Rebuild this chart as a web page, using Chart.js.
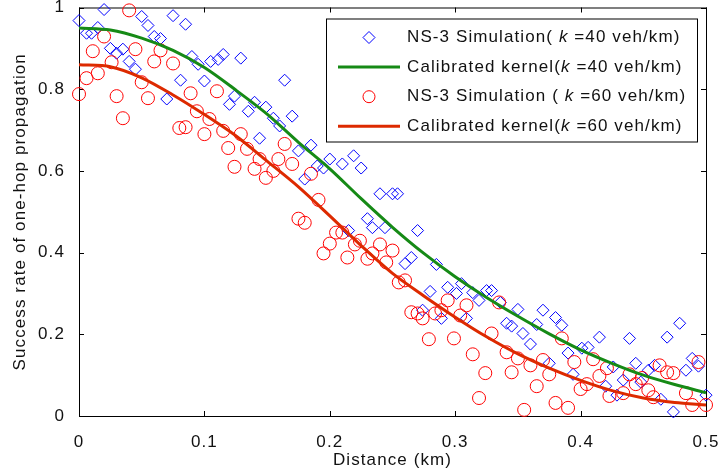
<!DOCTYPE html>
<html>
<head>
<meta charset="utf-8">
<script src="https://cdn.jsdelivr.net/npm/chart.js@4.4.0/dist/chart.umd.min.js"></script>
<style>
  html, body { margin: 0; padding: 0; background: #fff; }
</style>
</head>
<body>
<canvas id="chart" width="719" height="475"></canvas>
<script>
// NS-3 simulation, k = 40 veh/km (distance in km, success rate)
const sim40X = [
  0.000, 0.020, 0.006, 0.010, 0.015, 0.025, 0.030, 0.035, 0.040, 0.045,
  0.050, 0.055, 0.060, 0.065, 0.075, 0.085, 0.070, 0.081, 0.090, 0.095,
  0.100, 0.105, 0.111, 0.115, 0.129, 0.120, 0.124, 0.135, 0.140, 0.149,
  0.155, 0.160, 0.164, 0.170, 0.144, 0.175, 0.185, 0.180, 0.190, 0.195,
  0.200, 0.210, 0.219, 0.225, 0.215, 0.240, 0.250, 0.254, 0.230, 0.234,
  0.244, 0.270, 0.260, 0.265, 0.285, 0.280, 0.294, 0.301, 0.305, 0.314,
  0.319, 0.325, 0.329, 0.274, 0.289, 0.309, 0.336, 0.341, 0.345, 0.350,
  0.354, 0.360, 0.370, 0.365, 0.380, 0.385, 0.375, 0.390, 0.401, 0.406,
  0.415, 0.394, 0.420, 0.426, 0.434, 0.429, 0.439, 0.444, 0.448, 0.459,
  0.454, 0.464, 0.469, 0.479, 0.474, 0.484, 0.489, 0.494, 0.500
];
const sim40Y = [
  0.968, 0.995, 0.937, 0.937, 0.951, 0.900, 0.888, 0.898, 0.868, 0.849,
  0.978, 0.956, 0.929, 0.924, 0.980, 0.959, 0.776, 0.822, 0.880, 0.861,
  0.820, 0.868, 0.873, 0.885, 0.876, 0.763, 0.783, 0.746, 0.768, 0.756,
  0.729, 0.710, 0.822, 0.734, 0.680, 0.649, 0.663, 0.580, 0.612, 0.607,
  0.629, 0.617, 0.637, 0.607, 0.454, 0.544, 0.544, 0.544, 0.483, 0.461,
  0.461, 0.454, 0.373, 0.388, 0.371, 0.305, 0.315, 0.300, 0.324, 0.302,
  0.283, 0.307, 0.307, 0.259, 0.239, 0.239, 0.278, 0.227, 0.220, 0.261,
  0.202, 0.176, 0.259, 0.224, 0.241, 0.222, 0.129, 0.154, 0.166, 0.168,
  0.193, 0.102, 0.073, 0.120, 0.088, 0.051, 0.190, 0.129, 0.083, 0.124,
  0.112, 0.041, 0.193, 0.227, 0.010, 0.112, 0.141, 0.122, 0.051
];

// NS-3 simulation, k = 60 veh/km
const sim60X = [
  0.000, 0.006, 0.011, 0.015, 0.020, 0.026, 0.030, 0.035, 0.040, 0.045,
  0.050, 0.055, 0.060, 0.065, 0.075, 0.080, 0.085, 0.089, 0.094, 0.100,
  0.104, 0.110, 0.115, 0.119, 0.124, 0.129, 0.134, 0.140, 0.144, 0.149,
  0.155, 0.159, 0.164, 0.170, 0.185, 0.191, 0.175, 0.180, 0.195, 0.200,
  0.205, 0.210, 0.214, 0.220, 0.224, 0.230, 0.234, 0.240, 0.245, 0.250,
  0.255, 0.260, 0.265, 0.270, 0.274, 0.279, 0.284, 0.289, 0.294, 0.299,
  0.304, 0.309, 0.314, 0.319, 0.324, 0.329, 0.335, 0.341, 0.345, 0.350,
  0.355, 0.360, 0.365, 0.370, 0.375, 0.380, 0.385, 0.390, 0.395, 0.400,
  0.405, 0.410, 0.415, 0.421, 0.423, 0.434, 0.439, 0.444, 0.449, 0.454,
  0.458, 0.463, 0.469, 0.474, 0.484, 0.489, 0.494, 0.500
];
const sim60Y = [
  0.788, 0.827, 0.893, 0.839, 0.929, 0.866, 0.783, 0.729, 0.993, 0.898,
  0.817, 0.778, 0.868, 0.895, 0.863, 0.705, 0.707, 0.790, 0.746, 0.690,
  0.727, 0.795, 0.698, 0.656, 0.610, 0.690, 0.654, 0.605, 0.629, 0.583,
  0.600, 0.629, 0.666, 0.617, 0.593, 0.529, 0.483, 0.473, 0.398, 0.422,
  0.449, 0.449, 0.388, 0.420, 0.429, 0.385, 0.398, 0.420, 0.376, 0.405,
  0.327, 0.332, 0.254, 0.251, 0.239, 0.188, 0.251, 0.259, 0.283, 0.190,
  0.246, 0.271, 0.151, 0.044, 0.105, 0.202, 0.278, 0.156, 0.107, 0.141,
  0.015, 0.124, 0.073, 0.137, 0.102, 0.032, 0.190, 0.020, 0.132, 0.066,
  0.078, 0.139, 0.098, 0.117, 0.049, 0.056, 0.102, 0.078, 0.093, 0.063,
  0.046, 0.124, 0.107, 0.105, 0.056, 0.027, 0.132, 0.027
];

// calibrated kernel curves
const fitX = [0, 0.025, 0.05, 0.075, 0.1, 0.125, 0.15, 0.175, 0.2, 0.225, 0.25,
              0.275, 0.3, 0.325, 0.35, 0.375, 0.4, 0.425, 0.45, 0.475, 0.5];
const fit40 = [0.950, 0.945, 0.925, 0.895, 0.853, 0.798, 0.739, 0.670, 0.605, 0.532, 0.462,
               0.398, 0.341, 0.290, 0.244, 0.201, 0.162, 0.129, 0.100, 0.077, 0.057];
const fit60 = [0.860, 0.855, 0.828, 0.786, 0.738, 0.686, 0.624, 0.561, 0.490, 0.417, 0.349,
               0.294, 0.242, 0.194, 0.152, 0.117, 0.087, 0.062, 0.044, 0.033, 0.027];

const xTickLabels = ['0', '0.1', '0.2', '0.3', '0.4', '0.5'];
const yTickLabels = ['0', '0.2', '0.4', '0.6', '0.8', '1'];

// legend text: before italic k, k, after
const legendParts = [
  ['NS-3 Simulation( ', 'k', ' =40 veh/km)'],
  ['Calibrated kernel(', 'k', ' =40 veh/km)'],
  ['NS-3 Simulation ( ', 'k', ' =60 veh/km)'],
  ['Calibrated kernel(', 'k', ' =60 veh/km)']
];

const FONT = '"Liberation Sans", Arial, Helvetica, sans-serif';
const SPACING = '1.1px';
const BLUE = '#0000ff';
const RED = '#ff0000';
const GREEN = '#168a16';
const REDLINE = '#dd2a00';

const pts = (xs, ys) => xs.map((x, i) => ({ x: x, y: ys[i] }));

// matlab text is a bit loose, widen it a little
const spacing = {
  id: 'spacing',
  beforeUpdate(chart) { chart.ctx.letterSpacing = SPACING; },
  beforeLayout(chart) { chart.ctx.letterSpacing = SPACING; },
  beforeDraw(chart) { chart.ctx.letterSpacing = SPACING; }
};

// box around the axes with inward ticks, matlab style
const frame = {
  id: 'frame',
  beforeDatasetsDraw(chart) {
    const { ctx, chartArea: a } = chart;
    const sx = chart.scales.x, sy = chart.scales.y;
    ctx.save();
    ctx.strokeStyle = '#000';
    ctx.lineWidth = 1;
    ctx.strokeRect(a.left + 0.5, a.top + 0.5, a.right - a.left, a.bottom - a.top);
    ctx.beginPath();
    sx.ticks.forEach(t => {
      const p = Math.round(sx.getPixelForValue(t.value)) + 0.5;
      ctx.moveTo(p, a.bottom); ctx.lineTo(p, a.bottom - 5);
      ctx.moveTo(p, a.top); ctx.lineTo(p, a.top + 5);
    });
    sy.ticks.forEach(t => {
      const p = Math.round(sy.getPixelForValue(t.value)) + 0.5;
      ctx.moveTo(a.left, p); ctx.lineTo(a.left + 5, p);
      ctx.moveTo(a.right, p); ctx.lineTo(a.right - 5, p);
    });
    ctx.stroke();
    ctx.restore();
  }
};

const legendBox = {
  id: 'legendBox',
  afterDatasetsDraw(chart) {
    const ctx = chart.ctx;
    const a = chart.chartArea;
    const left = a.right - 380, top = a.top + 11, w = 371, h = 123;
    ctx.save();
    ctx.fillStyle = '#fff';
    ctx.fillRect(left, top, w, h);
    ctx.strokeStyle = '#000';
    ctx.lineWidth = 1;
    ctx.strokeRect(left + 0.5, top + 0.5, w, h);
    ctx.textBaseline = 'middle';
    chart.data.datasets.forEach((ds, i) => {
      const cy = top + 19 + i * 29.6;
      const mx = left + 43;
      if (ds.showLine) {
        ctx.strokeStyle = ds.borderColor;
        ctx.lineWidth = 3;
        ctx.beginPath();
        ctx.moveTo(left + 12, cy); ctx.lineTo(left + 74, cy);
        ctx.stroke();
      } else {
        ctx.strokeStyle = ds.borderColor;
        ctx.lineWidth = 1;
        ctx.beginPath();
        if (ds.pointStyle === 'rectRot') {
          ctx.moveTo(mx - 6, cy); ctx.lineTo(mx, cy - 6);
          ctx.lineTo(mx + 6, cy); ctx.lineTo(mx, cy + 6);
          ctx.closePath();
        } else {
          ctx.arc(mx, cy, 6, 0, Math.PI * 2);
        }
        ctx.stroke();
      }
      ctx.fillStyle = '#111';
      let tx = left + 81;
      legendParts[i].forEach((s, j) => {
        ctx.font = (j === 1 ? 'italic ' : '') + '17px ' + FONT;
        ctx.fillText(s, tx, cy);
        tx += ctx.measureText(s).width;
      });
    });
    ctx.restore();
  }
};

new Chart(document.getElementById('chart'), {
  type: 'scatter',
  data: {
    datasets: [
      {
        label: 'NS-3 Simulation (k=40 veh/km)',
        data: pts(sim40X, sim40Y),
        pointStyle: 'rectRot',
        pointRadius: 6,
        borderColor: BLUE,
        backgroundColor: 'rgba(0,0,0,0)',
        borderWidth: 1,
        order: 3,
        clip: false
      },
      {
        label: 'Calibrated kernel(k=40 veh/km)',
        data: pts(fitX, fit40),
        showLine: true,
        pointRadius: 0,
        borderColor: GREEN,
        borderWidth: 3,
        tension: 0.3,
        order: 1
      },
      {
        label: 'NS-3 Simulation (k=60 veh/km)',
        data: pts(sim60X, sim60Y),
        pointStyle: 'circle',
        pointRadius: 6.5,
        borderColor: RED,
        backgroundColor: 'rgba(0,0,0,0)',
        borderWidth: 1,
        order: 2,
        clip: false
      },
      {
        label: 'Calibrated kernel(k=60 veh/km)',
        data: pts(fitX, fit60),
        showLine: true,
        pointRadius: 0,
        borderColor: REDLINE,
        borderWidth: 3,
        tension: 0.3,
        order: 0
      }
    ]
  },
  options: {
    responsive: false,
    animation: false,
    devicePixelRatio: 1,
    layout: { padding: { left: 0, right: 13, top: 6, bottom: 0 } },
    plugins: {
      legend: { display: false },
      tooltip: { enabled: false }
    },
    scales: {
      x: {
        type: 'linear',
        min: 0,
        max: 0.5,
        afterFit: s => { s.height = 59; s.paddingLeft = 0; s.paddingRight = 0; },
        grid: { display: false },
        border: { display: false },
        ticks: {
          stepSize: 0.1,
          autoSkip: false,
          maxRotation: 0,
          padding: 8,
          color: '#111',
          font: { family: FONT, size: 17 },
          callback: (v, i) => xTickLabels[i]
        },
        title: {
          display: true,
          text: 'Distance (km)',
          color: '#111',
          font: { family: FONT, size: 17 },
          padding: { top: 0, bottom: 4 }
        }
      },
      y: {
        type: 'linear',
        min: 0,
        max: 1,
        afterFit: s => { s.width = 79; s.paddingTop = 0; s.paddingBottom = 0; },
        grid: { display: false },
        border: { display: false },
        ticks: {
          stepSize: 0.2,
          autoSkip: false,
          padding: 6,
          color: '#111',
          font: { family: FONT, size: 17 },
          callback: (v, i) => yTickLabels[i]
        },
        title: {
          display: true,
          text: 'Success rate of one-hop propagation',
          color: '#111',
          font: { family: FONT, size: 17 },
          padding: { top: 10, bottom: 0 }
        }
      }
    }
  },
  plugins: [spacing, frame, legendBox]
});
</script>
</body>
</html>
